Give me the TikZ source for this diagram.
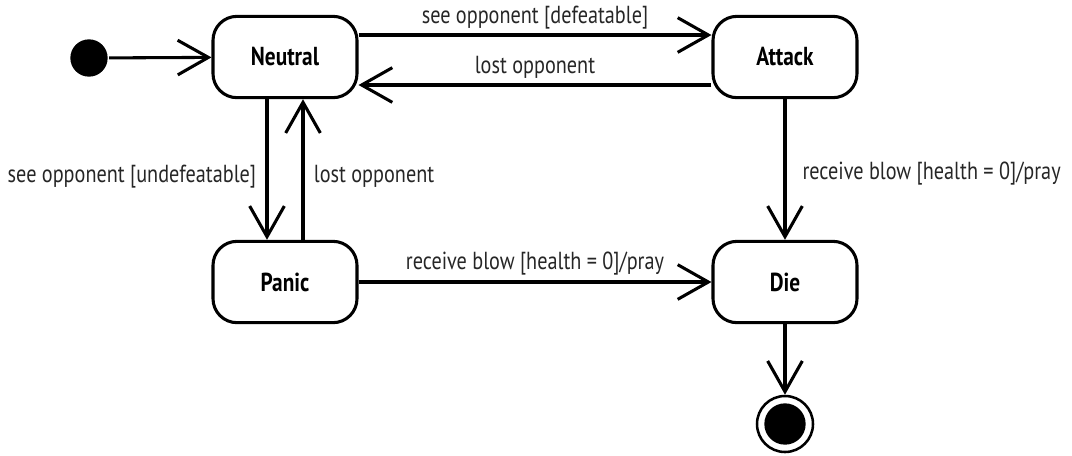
\documentclass[tikz,border=0pt]{standalone}
\usepackage{fontspec}
\setmainfont{PT Sans}[FakeStretch=0.82]
\usepackage{tikz}
\usetikzlibrary{arrows.meta,positioning,calc}
\definecolor{inkGray}{HTML}{262626}

\begin{document}
\begin{tikzpicture}[x=0.75pt, y=-0.75pt, line width=2.3pt, font=\fontsize{18.5}{20}\selectfont,
  state/.style={draw, rounded corners=18pt, minimum width=108pt, minimum height=61pt, font=\fontsize{19.5}{21}\selectfont\bfseries},
  trans/.style={-{Straight Barb[length=23pt, width=26pt, line width=2.3pt]}},
  lbl/.style={text=inkGray, inner sep=1pt}]
  \useasboundingbox (0,0) rectangle (1072,455);
  % initial and final points
  \node[circle, fill, minimum size=28pt, inner sep=0pt] (start) at (89,58) {};
  \node[circle, draw, line width=1.9pt, minimum size=42pt, inner sep=0pt] (stop) at (785,424) {};
  \node[circle, fill, minimum size=31pt, inner sep=0pt] (stopdot) at (785,424) {};
  % states
  \node[state] (neutral) at (285,57) {Neutral};
  \node[state] (attack) at (785,57) {Attack};
  \node[state] (panic) at (285,282) {Panic};
  \node[state] (die) at (785,282) {Die};
  % top row
  \draw[trans] (start) -- (neutral);
  \draw[trans] ([yshift=16.5pt]neutral.east) -- node[lbl, above=2pt] {see opponent [defeatable]} ([yshift=16.5pt]attack.west);
  \draw[trans] ([yshift=-21pt]attack.west) -- node[lbl, above=3pt] {lost opponent} ([yshift=-21pt]neutral.east);
  % left column
  \draw[trans] ([xshift=-13.5pt]neutral.south) -- node[lbl, left=6pt, pos=0.55] {see opponent [undefeatable]} ([xshift=-13.5pt]panic.north);
  \draw[trans] ([xshift=13.5pt]panic.north) -- node[lbl, right=6pt, pos=0.45] {lost opponent} ([xshift=13.5pt]neutral.south);
  % to die
  \draw[trans] (panic) -- node[lbl, above=3pt] {receive blow [health = 0]/pray} (die);
  \draw[trans] (attack) -- node[lbl, right=11pt, pos=0.53] {receive blow [health = 0]/pray} (die);
  \draw[trans] (die) -- (stop);
\end{tikzpicture}
\end{document}
